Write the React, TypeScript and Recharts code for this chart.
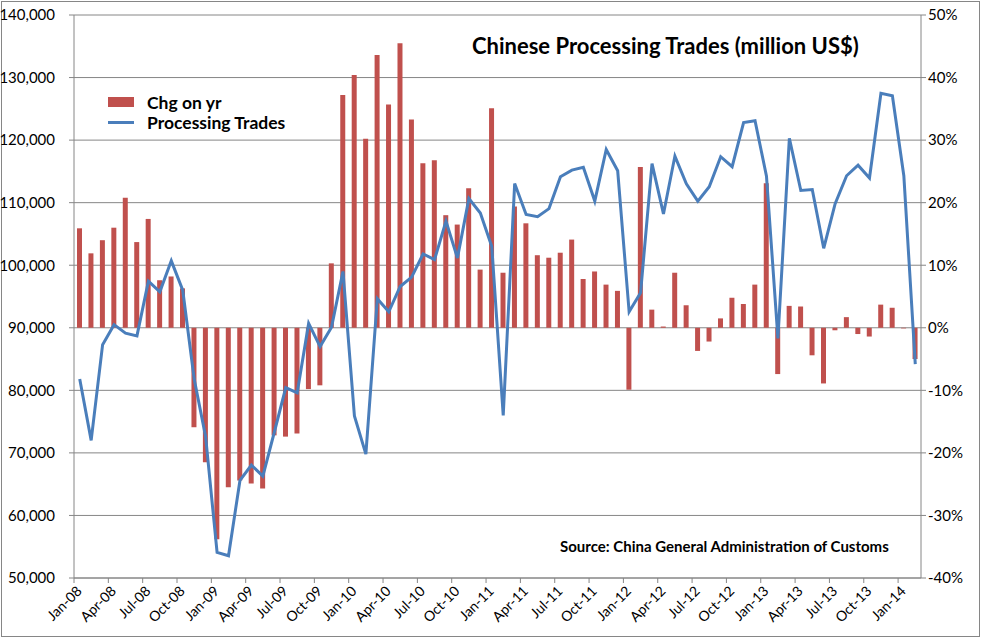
import React from 'react';
import { ComposedChart, Bar, Line, XAxis, YAxis, CartesianGrid, Legend } from 'recharts';

const months = [
  'Jan-08', 'Feb-08', 'Mar-08', 'Apr-08', 'May-08', 'Jun-08', 'Jul-08', 'Aug-08', 'Sep-08', 'Oct-08', 'Nov-08', 'Dec-08',
  'Jan-09', 'Feb-09', 'Mar-09', 'Apr-09', 'May-09', 'Jun-09', 'Jul-09', 'Aug-09', 'Sep-09', 'Oct-09', 'Nov-09', 'Dec-09',
  'Jan-10', 'Feb-10', 'Mar-10', 'Apr-10', 'May-10', 'Jun-10', 'Jul-10', 'Aug-10', 'Sep-10', 'Oct-10', 'Nov-10', 'Dec-10',
  'Jan-11', 'Feb-11', 'Mar-11', 'Apr-11', 'May-11', 'Jun-11', 'Jul-11', 'Aug-11', 'Sep-11', 'Oct-11', 'Nov-11', 'Dec-11',
  'Jan-12', 'Feb-12', 'Mar-12', 'Apr-12', 'May-12', 'Jun-12', 'Jul-12', 'Aug-12', 'Sep-12', 'Oct-12', 'Nov-12', 'Dec-12',
  'Jan-13', 'Feb-13', 'Mar-13', 'Apr-13', 'May-13', 'Jun-13', 'Jul-13', 'Aug-13', 'Sep-13', 'Oct-13', 'Nov-13', 'Dec-13',
  'Jan-14', 'Feb-14'
];

// year-on-year change, %
const chgOnYr = [
  15.9, 11.9, 14.0, 16.0, 20.8, 13.7, 17.4, 7.6, 8.2, 6.3, -15.9, -21.5,
  -33.8, -25.5, -24.4, -24.9, -25.7, -17.2, -17.4, -16.9, -9.8, -9.2, 10.3, 37.2,
  40.4, 30.2, 43.6, 35.7, 45.5, 33.3, 26.3, 26.8, 18.0, 16.5, 22.3, 9.3,
  35.1, 8.8, 19.4, 16.7, 11.6, 11.2, 12.0, 14.1, 7.8, 9.0, 6.9, 5.9,
  -9.9, 25.7, 2.9, 0.2, 8.8, 3.6, -3.7, -2.2, 1.5, 4.8, 3.8, 6.9,
  23.1, -7.4, 3.5, 3.4, -4.4, -8.9, -0.4, 1.7, -1.0, -1.4, 3.7, 3.2,
  -0.1, -5.0
];

// million US$
const processingTrades = [
  81800, 72000, 87300, 90500, 89150, 88700, 97450, 95750, 100700, 96000, 81800, 72600,
  54100, 53550, 65600, 68050, 66300, 73300, 80450, 79600, 90700, 87000, 90100, 99000,
  75900, 69800, 94650, 92550, 96600, 98100, 101800, 100900, 107050, 101150, 110650, 108350,
  103000, 76000, 113050, 108100, 107750, 109050, 114150, 115200, 115650, 110250, 118500, 115100,
  92550, 95600, 116250, 108200, 117450, 113000, 110250, 112550, 117350, 115750, 122800, 123100,
  114250, 88300, 120300, 111950, 112100, 102700, 109850, 114300, 116000, 113950, 127500, 127100,
  114300, 84200
];

const leftTicks = [50000, 60000, 70000, 80000, 90000, 100000, 110000, 120000, 130000, 140000];
const rightTicks = [-40, -30, -20, -10, 0, 10, 20, 30, 40, 50];

const data = months.map((month, i) => ({
  month,
  chg: chgOnYr[i],
  trades: processingTrades[i],
}));

const W = 981;
const H = 640;
const LEFT_W = 74;
const RIGHT_W = 60;
const AXIS_GREY = '#868686';
const FONT = 'Lato, "Open Sans", sans-serif';
const HALF_BAND = (W - LEFT_W - RIGHT_W) / months.length / 2;

// Excel puts the tick marks between categories, the label at the category
const MonthTick = (props: any) => {
  const { x, y, payload } = props;
  const axisY = y - 8;
  const tx = x + 3;
  const ty = y + 6;
  return (
    <g>
      <line x1={x - HALF_BAND} x2={x - HALF_BAND} y1={axisY} y2={axisY + 5} stroke={AXIS_GREY} />
      <text
        x={tx}
        y={ty}
        textAnchor="end"
        transform={`rotate(-45 ${tx} ${ty})`}
        fontSize={14}
        fontFamily={FONT}
        fill="#000"
      >
        {payload.value}
      </text>
    </g>
  );
};

const renderLegend = (props: any) => {
  const { payload } = props;
  return (
    <div style={{ fontFamily: FONT, fontWeight: 700, fontSize: 17.5, color: '#000' }}>
      {payload.map((entry: any) => (
        <div key={entry.value} style={{ display: 'flex', alignItems: 'center', height: 20 }}>
          <div style={{ width: 26, marginRight: 13, display: 'flex', alignItems: 'center' }}>
            {entry.type === 'rect' ? (
              <div style={{ width: 26, height: 10, background: entry.color }} />
            ) : (
              <div style={{ width: 26, height: 3, background: entry.color }} />
            )}
          </div>
          <span>{entry.value}</span>
        </div>
      ))}
    </div>
  );
};

const App: React.FC = () => {
  return (
    <div style={{ position: 'absolute', left: 0, top: 0, width: W, height: H, background: '#fff', fontFamily: FONT }}>
      <div
        style={{
          position: 'absolute',
          left: 1,
          top: 1,
          width: 979,
          height: 636,
          border: `1px solid ${AXIS_GREY}`,
          boxSizing: 'border-box',
        }}
      />
      <ComposedChart width={W} height={H} data={data} margin={{ top: 15, right: 0, bottom: 0, left: 0 }}>
        <CartesianGrid yAxisId="left" vertical={false} stroke={AXIS_GREY} />
        <XAxis
          dataKey="month"
          interval={2}
          height={62}
          tickLine={false}
          tickSize={5}
          tickMargin={3}
          axisLine={{ stroke: AXIS_GREY }}
          tick={<MonthTick />}
        />
        <YAxis
          yAxisId="left"
          domain={[50000, 140000]}
          ticks={leftTicks}
          interval={0}
          width={LEFT_W}
          tickSize={5}
          tickMargin={14}
          axisLine={{ stroke: AXIS_GREY }}
          tickLine={{ stroke: AXIS_GREY }}
          tick={{ fontSize: 15, fill: '#000', fontFamily: FONT }}
          tickFormatter={(v: number) => v.toLocaleString('en-US')}
        />
        <YAxis
          yAxisId="right"
          orientation="right"
          domain={[-40, 50]}
          ticks={rightTicks}
          interval={0}
          width={RIGHT_W}
          tickSize={5}
          tickMargin={2}
          axisLine={{ stroke: AXIS_GREY }}
          tickLine={{ stroke: AXIS_GREY }}
          tick={{ fontSize: 15, fill: '#000', fontFamily: FONT, textAnchor: 'start' }}
          tickFormatter={(v: number) => `${v}%`}
        />
        <Legend
          layout="vertical"
          align="center"
          verticalAlign="middle"
          wrapperStyle={{ left: 108, top: 92, width: 240 }}
          content={renderLegend}
        />
        <Bar
          yAxisId="right"
          dataKey="chg"
          name="Chg on yr"
          fill="#C0504D"
          barSize={5}
          legendType="rect"
          isAnimationActive={false}
        />
        <Line
          yAxisId="left"
          dataKey="trades"
          name="Processing Trades"
          type="linear"
          stroke="#4A7EBB"
          strokeWidth={3}
          dot={false}
          legendType="line"
          isAnimationActive={false}
        />
      </ComposedChart>
      <div
        style={{
          position: 'absolute',
          left: 472,
          top: 33,
          fontSize: 22,
          fontWeight: 700,
          lineHeight: '26px',
          whiteSpace: 'nowrap',
          color: '#000',
        }}
      >
        Chinese Processing Trades (million US$)
      </div>
      <div
        style={{
          position: 'absolute',
          left: 560,
          top: 537,
          fontSize: 15,
          fontWeight: 700,
          lineHeight: '18px',
          whiteSpace: 'nowrap',
          color: '#000',
        }}
      >
        Source: China General Administration of Customs
      </div>
    </div>
  );
};

export default App;
